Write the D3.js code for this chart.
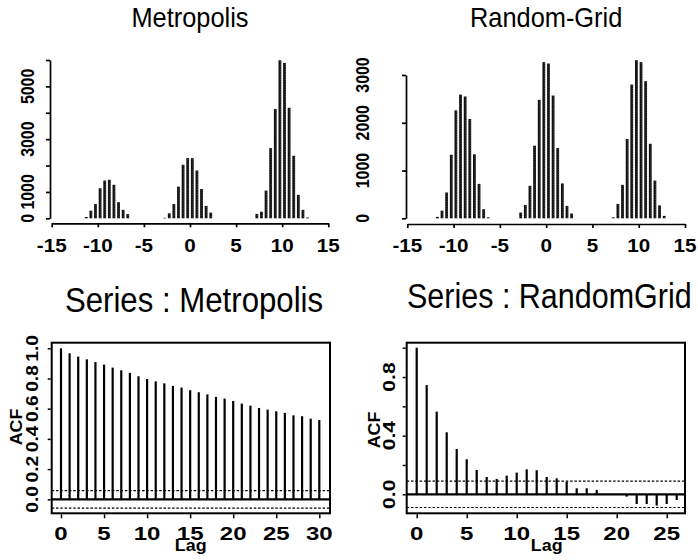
<!DOCTYPE html>
<html>
<head>
<meta charset="utf-8">
<script src="https://cdn.jsdelivr.net/npm/d3@7/dist/d3.min.js"></script>
<style>
  body { margin: 0; background: #fff; }
  svg { display: block; font-family: "Liberation Sans", Arial, sans-serif; }
</style>
</head>
<body>
<div id="chart"></div>
<script>
// histogram bins (mid points) and counts
var metroBinMid = [-11.25, -10.75, -10.25, -9.75, -9.25, -8.75, -8.25, -7.75, -7.25, -6.75,
  -2.75, -2.25, -1.75, -1.25, -0.75, -0.25, 0.25, 0.75, 1.25, 1.75, 2.25,
  7.25, 7.75, 8.25, 8.75, 9.25, 9.75, 10.25, 10.75, 11.25, 11.75, 12.25, 12.75];
var metroCount = [50, 290, 540, 1140, 1430, 1460, 1270, 610, 320, 160,
  20, 190, 540, 1200, 2030, 2280, 2280, 1810, 1110, 470, 215,
  165, 250, 1050, 2660, 4140, 5990, 5890, 4190, 2370, 890, 320, 30];

var gridBinMid = [-11.75, -11.25, -10.75, -10.25, -9.75, -9.25, -8.75, -8.25, -7.75, -7.25, -6.75, -6.25,
  -2.75, -2.25, -1.75, -1.25, -0.75, -0.25, 0.25, 0.75, 1.25, 1.75, 2.25, 2.75,
  7.25, 7.75, 8.25, 8.75, 9.25, 9.75, 10.25, 10.75, 11.25, 11.75, 12.25, 12.75];
var gridCount = [30, 160, 540, 1330, 2260, 2590, 2550, 2080, 1340, 720, 190, 20,
  120, 280, 680, 1520, 2480, 3270, 3240, 2570, 1470, 730, 260, 100,
  20, 300, 700, 1660, 2800, 3310, 3270, 2870, 1560, 790, 270, 50];

var histXTicks = [-15, -10, -5, 0, 5, 10, 15];
var metroYTicks = [0, 1000, 2000, 3000, 4000, 5000, 6000];
var metroYLabels = [0, 1000, 3000, 5000];
var gridYTicks = [0, 1000, 2000, 3000];
var gridYLabels = [0, 1000, 2000, 3000];

// autocorrelations
var metroLag = [0,1,2,3,4,5,6,7,8,9,10,11,12,13,14,15,16,17,18,19,20,21,22,23,24,25,26,27,28,29,30];
var metroAcf = [1.0, 0.967, 0.945, 0.927, 0.909, 0.892, 0.872, 0.854, 0.837, 0.815, 0.797,
  0.781, 0.768, 0.751, 0.740, 0.722, 0.709, 0.695, 0.678, 0.667, 0.651,
  0.634, 0.620, 0.605, 0.594, 0.583, 0.572, 0.556, 0.550, 0.534, 0.525];
var metroBand = 0.058;
var metroLagTicks = [0, 5, 10, 15, 20, 25, 30];
var metroAcfTicks = [0, 0.2, 0.4, 0.6, 0.8, 1.0];
var metroAcfLabels = ["0.0", "0.2", "0.4", "0.6", "0.8", "1.0"];

var gridLag = [0,1,2,3,4,5,6,7,8,9,10,11,12,13,14,15,16,17,18,19,20,21,22,23,24,25,26];
var gridAcf = [1.0, 0.745, 0.564, 0.423, 0.309, 0.239, 0.166, 0.118, 0.105, 0.127, 0.148,
  0.170, 0.164, 0.118, 0.109, 0.086, 0.041, 0.041, 0.030, -0.003, -0.005,
  -0.016, -0.066, -0.066, -0.077, -0.066, -0.039];
var gridBand = 0.09;
var gridLagTicks = [0, 5, 10, 15, 20, 25];
var gridAcfTicks = [0, 0.2, 0.4, 0.6, 0.8, 1.0];
var gridAcfLabelVals = [0, 0.4, 0.8];
var gridAcfLabels = ["0.0", "0.4", "0.8"];

var svg = d3.select("#chart").append("svg")
  .attr("width", 698)
  .attr("height", 560);

// text helper: the original lettering is a little stretched, so allow scaling
function label(x, y, s, o) {
  var t = svg.append("text")
    .attr("transform", "translate(" + x + "," + y + ") rotate(" + (o.rot || 0) + ") scale(" + (o.sx || 1) + "," + (o.sy || 1) + ")")
    .attr("text-anchor", o.anchor || "middle")
    .attr("font-size", o.size)
    .attr("font-weight", o.weight || "normal")
    .attr("fill", "#000")
    .text(s);
  return t;
}

function styleAxis(g, w) {
  g.selectAll("path, line").attr("stroke", "#000").attr("stroke-width", w);
}

// ---------- histograms ----------
function histogram(mids, counts, xr, yTop, yMax, yAxisX, xAxisY, yTicks, yLabels, yLabX, title) {
  var x = d3.scaleLinear().domain([-15, 15]).range(xr);
  var y = d3.scaleLinear().domain([0, yMax]).range([218.3, yTop]);

  var bars = svg.append("g");
  bars.selectAll("rect")
    .data(mids)
    .join("rect")
      .attr("x", function(d) { return x(d) - 1.4; })
      .attr("width", 2.8)
      .attr("y", function(d, i) { return y(counts[i]); })
      .attr("height", function(d, i) { return y(0) - y(counts[i]); })
      .attr("fill", "#111");
  // grainy look of the original bars
  bars.selectAll("line")
    .data(mids)
    .join("line")
      .attr("x1", function(d) { return x(d) + 0.6; })
      .attr("x2", function(d) { return x(d) + 0.6; })
      .attr("y1", function(d, i) { return y(counts[i]) + 1; })
      .attr("y2", y(0))
      .attr("stroke", "#777")
      .attr("stroke-width", 0.6)
      .attr("stroke-dasharray", "1,1.5");

  var gx = svg.append("g")
    .attr("transform", "translate(0," + xAxisY + ")")
    .call(d3.axisBottom(x).tickValues(histXTicks).tickSize(4).tickSizeOuter(0).tickFormat(""));
  styleAxis(gx, 1.7);
  histXTicks.forEach(function(v) {
    label(x(v), 252, String(v), {size: 17.5, sx: 1.18, weight: "bold"});
  });

  var gy = svg.append("g")
    .attr("transform", "translate(" + yAxisX + ",0)")
    .call(d3.axisLeft(y).tickValues(yTicks).tickSize(4).tickSizeOuter(0).tickFormat(""));
  styleAxis(gy, 1.7);
  yLabels.forEach(function(v) {
    label(yLabX, y(v), String(v), {size: 18.5, rot: -90, sx: 0.86, weight: "bold"});
  });

  label((xr[0] + xr[1]) / 2, 26.7, title, {size: 25.4, sy: 1.1});
}

histogram(metroBinMid, metroCount, [51.7, 328.3], 60, 6000, 50, 223.3, metroYTicks, metroYLabels, 33.5, "Metropolis");
histogram(gridBinMid, gridCount, [407.3, 685], 75, 3000, 406, 224, gridYTicks, gridYLabels, 368.5, "Random-Grid");

// ---------- ACF plots ----------
function acfPlot(lags, acf, band, boxX, lagMax, lagRange, y0, y1, lagTicks, yTicks, yLabVals, yLabs, yLabX, yLabSx, acfX, acfY, lagX) {
  var boxW = 278.3, boxTop = 342.7, boxBot = 513.3;
  var x = d3.scaleLinear().domain([0, lagMax]).range(lagRange);
  var y = d3.scaleLinear().domain([0, 1]).range([y0, y1]);

  // confidence band
  [band, -band].forEach(function(b) {
    svg.append("line")
      .attr("x1", boxX).attr("x2", boxX + boxW)
      .attr("y1", y(b)).attr("y2", y(b))
      .attr("stroke", "#000").attr("stroke-width", 1.2)
      .attr("stroke-dasharray", "2.5,1.8");
  });

  svg.append("g").selectAll("line")
    .data(lags)
    .join("line")
      .attr("x1", function(d) { return x(d); })
      .attr("x2", function(d) { return x(d); })
      .attr("y1", y(0))
      .attr("y2", function(d, i) { return y(acf[i]); })
      .attr("stroke", "#000")
      .attr("stroke-width", 2.2);

  svg.append("line")
    .attr("x1", boxX).attr("x2", boxX + boxW)
    .attr("y1", y(0)).attr("y2", y(0))
    .attr("stroke", "#000").attr("stroke-width", 2.2);

  svg.append("rect")
    .attr("x", boxX).attr("y", boxTop)
    .attr("width", boxW).attr("height", boxBot - boxTop)
    .attr("fill", "none").attr("stroke", "#000").attr("stroke-width", 2);

  var gx = svg.append("g")
    .attr("transform", "translate(0," + (boxBot + 1) + ")")
    .call(d3.axisBottom(x).tickValues(lagTicks).tickSize(4).tickFormat(""));
  gx.select(".domain").remove();
  styleAxis(gx, 1.5);
  lagTicks.forEach(function(v) {
    label(x(v), 540, String(v), {size: 18.5, sx: 1.3, weight: "bold"});
  });

  var gy = svg.append("g")
    .attr("transform", "translate(" + (boxX - 1) + ",0)")
    .call(d3.axisLeft(y).tickValues(yTicks).tickSize(3).tickFormat(""));
  gy.select(".domain").remove();
  styleAxis(gy, 1.5);
  yLabVals.forEach(function(v, i) {
    label(yLabX, y(v), yLabs[i], {size: 16, rot: -90, sx: yLabSx, weight: "bold"});
  });

  label(acfX, acfY, "ACF", {size: 17, rot: -90, sx: 1.05, weight: "bold"});
  label(lagX, 551, "Lag", {size: 17, sx: 1.05, weight: "bold"});
}

acfPlot(metroLag, metroAcf, metroBand, 51.7, 30, [61, 319.3], 499.3, 348.3,
  metroLagTicks, metroAcfTicks, metroAcfTicks, metroAcfLabels, 37.5, 1.2, 21.7, 427, 190.7);
acfPlot(gridLag, gridAcf, gridBand, 406.7, 25, [416.7, 666.7], 494.3, 347.7,
  gridLagTicks, gridAcfTicks, gridAcfLabelVals, gridAcfLabels, 395, 1.32, 380, 430, 546.7);

label(194, 311.5, "Series : Metropolis", {size: 31.2, sy: 1.12});
label(407, 308, "Series : RandomGrid", {size: 30.5, sy: 1.12, anchor: "start"});
</script>
</body>
</html>
